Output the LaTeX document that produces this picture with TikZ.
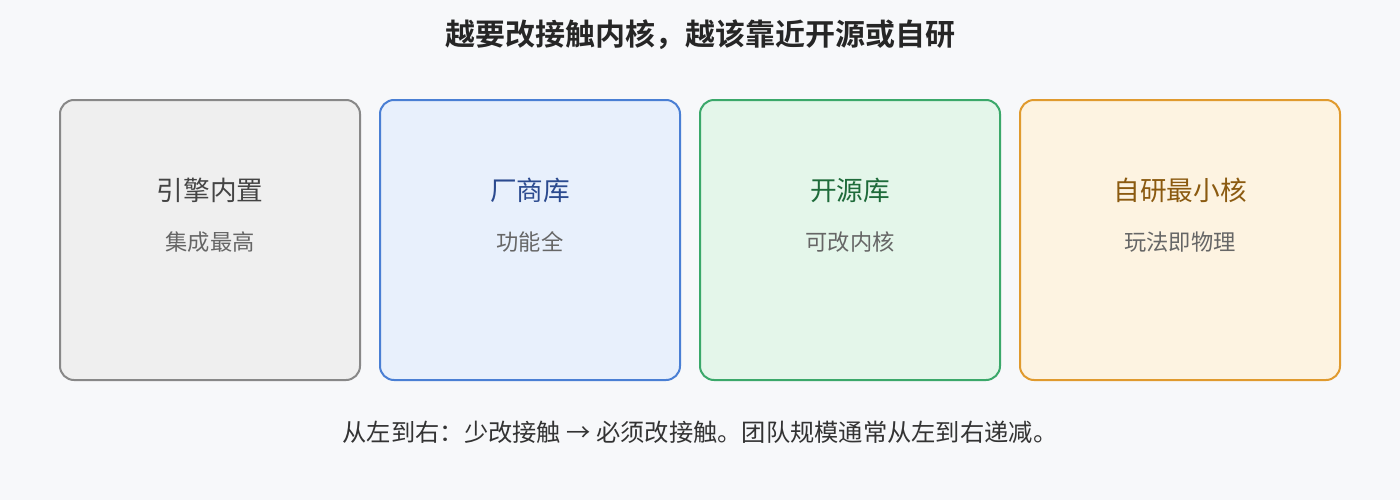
\documentclass[tikz,border=0pt]{standalone}
\usepackage{fontspec}
\setmainfont{Noto Sans CJK SC}
\newfontfamily\titlefont{Noto Sans CJK SC Bold}
\usetikzlibrary{positioning}

\definecolor{pagebg}{HTML}{F7F8FA}
\definecolor{engfill}{HTML}{EFEFEF}
\definecolor{engline}{HTML}{888888}
\definecolor{engtext}{HTML}{444444}
\definecolor{venfill}{HTML}{E8F0FC}
\definecolor{venline}{HTML}{4A7FD4}
\definecolor{ventext}{HTML}{2B4A8F}
\definecolor{ossfill}{HTML}{E4F6EA}
\definecolor{ossline}{HTML}{3BA86A}
\definecolor{osstext}{HTML}{1E6B3A}
\definecolor{ownfill}{HTML}{FDF3E1}
\definecolor{ownline}{HTML}{E09A2E}
\definecolor{owntext}{HTML}{8B5A10}
\definecolor{subtext}{HTML}{666666}
\definecolor{maintext}{HTML}{333333}

\tikzset{
  card/.style={draw, line width=1.5pt, rounded corners=10.5pt, minimum height=210pt},
  cardname/.style={font=\fontsize{20pt}{24pt}\selectfont},
  cardnote/.style={font=\fontsize{16.7pt}{20pt}\selectfont, text=subtext}
}

\begin{document}
\begin{tikzpicture}[x=0.75pt,y=-0.75pt]
\fill[pagebg] (0,0) rectangle (1400,500);
\useasboundingbox (0,0) rectangle (1400,500);

\node[font=\titlefont\fontsize{22.5pt}{26pt}\selectfont, text=black!85] (title) at (700,35) {越要改接触内核，越该靠近开源或自研};

% engine built-in
\node[card, fill=engfill, draw=engline, minimum width=225pt] (engine) at (210,240) {};
\node[cardname, text=engtext] (engname) at (210,190) {引擎内置};
\node[cardnote] (engnote) at (210,242) {集成最高};

% vendor library
\node[card, fill=venfill, draw=venline, minimum width=225pt] (vendor) at (530,240) {};
\node[cardname, text=ventext] (venname) at (530,190) {厂商库};
\node[cardnote] (vennote) at (530,242) {功能全};

% open source library
\node[card, fill=ossfill, draw=ossline, minimum width=225pt] (oss) at (850,240) {};
\node[cardname, text=osstext] (ossname) at (850,190) {开源库};
\node[cardnote] (ossnote) at (850,242) {可改内核};

% own minimal core
\node[card, fill=ownfill, draw=ownline, minimum width=240pt] (own) at (1180,240) {};
\node[cardname, text=owntext] (ownname) at (1180,190) {自研最小核};
\node[cardnote] (ownnote) at (1180,242) {玩法即物理};

\node[font=\fontsize{18.2pt}{22pt}\selectfont, text=maintext] (footer) at (700,432) {从左到右：少改接触 → 必须改接触。团队规模通常从左到右递减。};

\end{tikzpicture}
\end{document}
